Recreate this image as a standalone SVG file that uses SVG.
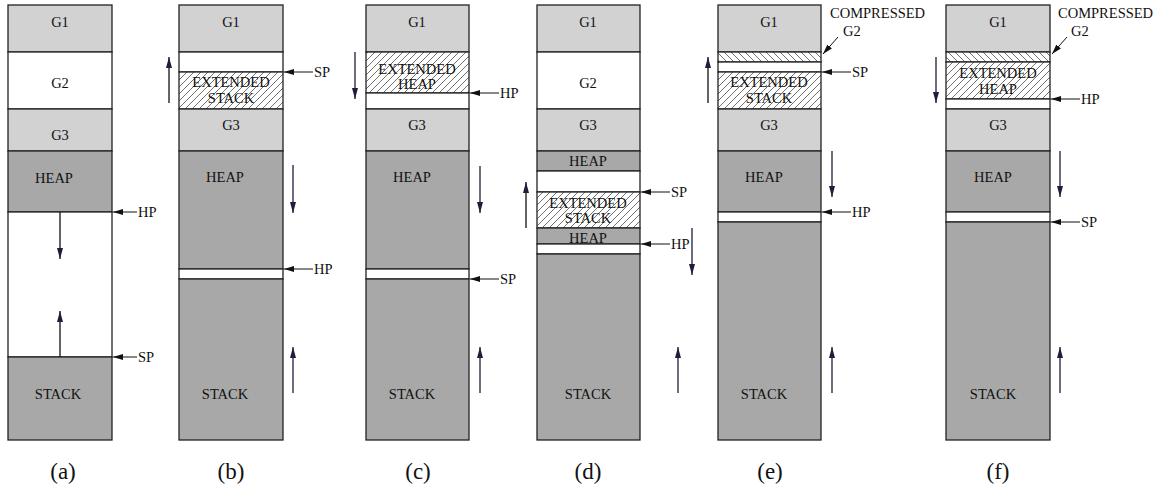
<svg xmlns="http://www.w3.org/2000/svg" width="1166" height="490" viewBox="0 0 1166 490">
<style>
.lg{fill:#d2d2d2;stroke:#222;stroke-width:1.3}
.dg{fill:#a8a8a8;stroke:#222;stroke-width:1.3}
.wh{fill:#fff;stroke:#222;stroke-width:1.3}
.hx{fill:url(#hatchF);stroke:#222;stroke-width:1.3}
.cx{fill:url(#hatchB);stroke:#222;stroke-width:1.3}
text{font-family:"Liberation Serif","Times New Roman",serif;font-size:14.5px;fill:#111}
.c{text-anchor:middle}
.cap{font-size:23px;text-anchor:middle}
.ptr{stroke:#111;stroke-width:1;fill:none;marker-end:url(#ah)}
.mv{stroke:#1e1e3c;stroke-width:1.3;fill:none;marker-end:url(#ah3)}
.mk{stroke:#111;stroke-width:1.3;fill:none;marker-end:url(#ah3)}
</style>
<defs>
<pattern id="hatchF" patternUnits="userSpaceOnUse" width="7" height="7">
<rect width="7" height="7" fill="#fff"/>
<path d="M0,7 L7,0 M-1,1 L1,-1 M6,8 L8,6" stroke="#333" stroke-width="0.7"/>
</pattern>
<pattern id="hatchB" patternUnits="userSpaceOnUse" width="7" height="7">
<rect width="7" height="7" fill="#fff"/>
<path d="M0,0 L7,7 M-1,6 L1,8 M6,-1 L8,1" stroke="#333" stroke-width="0.7"/>
</pattern>
<marker id="ah" markerWidth="10" markerHeight="6" refX="10" refY="3" orient="auto" markerUnits="userSpaceOnUse">
<path d="M0,0 L10,3 L0,6 z" fill="#111"/>
</marker>
<marker id="ah3" markerWidth="11" markerHeight="6" refX="11" refY="3" orient="auto" markerUnits="userSpaceOnUse">
<path d="M0,0 L11,3 L0,6 z" fill="#1e1e3c"/>
</marker>
</defs>

<g id="col-a">
<g id="a-g1"><rect class="lg" x="8" y="5" width="104" height="47"/><text class="c" x="60" y="27">G1</text></g>
<g id="a-g2"><rect class="wh" x="8" y="52" width="104" height="57"/><text class="c" x="60" y="88">G2</text></g>
<g id="a-g3"><rect class="lg" x="8" y="109" width="104" height="42"/><text class="c" x="60" y="140">G3</text></g>
<g id="a-heap"><rect class="dg" x="8" y="151" width="104" height="61"/><text class="c" x="54" y="183">HEAP</text></g>
<g id="a-free"><rect class="wh" x="8" y="212" width="104" height="145"/></g>
<g id="a-stack"><rect class="dg" x="8" y="357" width="104" height="83"/><text class="c" x="58" y="399">STACK</text></g>
<text class="cap" x="63" y="479">(a)</text>
</g>

<g id="col-b">
<g id="b-g1"><rect class="lg" x="179" y="5" width="104" height="47"/><text class="c" x="231" y="27">G1</text></g>
<g id="b-free1"><rect class="wh" x="179" y="52" width="104" height="20"/></g>
<g id="b-ext"><rect class="hx" x="179" y="72" width="104" height="37"/><text class="c" x="231" y="87">EXTENDED</text><text class="c" x="231" y="103">STACK</text></g>
<g id="b-g3"><rect class="lg" x="179" y="109" width="104" height="42"/><text class="c" x="231" y="130">G3</text></g>
<g id="b-heap"><rect class="dg" x="179" y="151" width="104" height="118"/><text class="c" x="225" y="182">HEAP</text></g>
<g id="b-free2"><rect class="wh" x="179" y="269" width="104" height="10"/></g>
<g id="b-stack"><rect class="dg" x="179" y="279" width="104" height="161"/><text class="c" x="225" y="399">STACK</text></g>
<text class="cap" x="231" y="479">(b)</text>
</g>

<g id="col-c">
<g id="c-g1"><rect class="lg" x="366" y="5" width="103" height="47"/><text class="c" x="417" y="27">G1</text></g>
<g id="c-ext"><rect class="hx" x="366" y="52" width="103" height="41"/><text class="c" x="417" y="74">EXTENDED</text><text class="c" x="417" y="89">HEAP</text></g>
<g id="c-free1"><rect class="wh" x="366" y="93" width="103" height="16"/></g>
<g id="c-g3"><rect class="lg" x="366" y="109" width="103" height="42"/><text class="c" x="417" y="130">G3</text></g>
<g id="c-heap"><rect class="dg" x="366" y="151" width="103" height="118"/><text class="c" x="412" y="182">HEAP</text></g>
<g id="c-free2"><rect class="wh" x="366" y="269" width="103" height="10"/></g>
<g id="c-stack"><rect class="dg" x="366" y="279" width="103" height="161"/><text class="c" x="412" y="399">STACK</text></g>
<text class="cap" x="418" y="479">(c)</text>
</g>

<g id="col-d">
<g id="d-g1"><rect class="lg" x="537" y="5" width="103" height="47"/><text class="c" x="588" y="27">G1</text></g>
<g id="d-g2"><rect class="wh" x="537" y="52" width="103" height="57"/><text class="c" x="588" y="88">G2</text></g>
<g id="d-g3"><rect class="lg" x="537" y="109" width="103" height="42"/><text class="c" x="588" y="130">G3</text></g>
<g id="d-heap1"><rect class="dg" x="537" y="151" width="103" height="20"/><text class="c" x="588" y="166">HEAP</text></g>
<g id="d-free1"><rect class="wh" x="537" y="171" width="103" height="21"/></g>
<g id="d-ext"><rect class="hx" x="537" y="192" width="103" height="36"/><text class="c" x="588" y="208">EXTENDED</text><text class="c" x="588" y="223">STACK</text></g>
<g id="d-heap2"><rect class="dg" x="537" y="228" width="103" height="16"/><text class="c" x="588" y="243">HEAP</text></g>
<g id="d-free2"><rect class="wh" x="537" y="244" width="103" height="10"/></g>
<g id="d-stack"><rect class="dg" x="537" y="254" width="103" height="186"/><text class="c" x="588" y="399">STACK</text></g>
<text class="cap" x="588" y="479">(d)</text>
</g>

<g id="col-e">
<g id="e-g1"><rect class="lg" x="718" y="5" width="103" height="47"/><text class="c" x="769" y="27">G1</text></g>
<g id="e-g2c"><rect class="cx" x="718" y="52" width="103" height="10"/></g>
<g id="e-free1"><rect class="wh" x="718" y="62" width="103" height="10"/></g>
<g id="e-ext"><rect class="hx" x="718" y="72" width="103" height="37"/><text class="c" x="769" y="87">EXTENDED</text><text class="c" x="769" y="103">STACK</text></g>
<g id="e-g3"><rect class="lg" x="718" y="109" width="103" height="42"/><text class="c" x="769" y="130">G3</text></g>
<g id="e-heap"><rect class="dg" x="718" y="151" width="103" height="61"/><text class="c" x="764" y="182">HEAP</text></g>
<g id="e-free2"><rect class="wh" x="718" y="212" width="103" height="10"/></g>
<g id="e-stack"><rect class="dg" x="718" y="222" width="103" height="218"/><text class="c" x="764" y="399">STACK</text></g>
<g id="e-label"><text x="830" y="18">COMPRESSED</text><text x="843" y="36">G2</text></g>
<text class="cap" x="770" y="479">(e)</text>
</g>

<g id="col-f">
<g id="f-g1"><rect class="lg" x="946" y="5" width="104" height="47"/><text class="c" x="998" y="27">G1</text></g>
<g id="f-g2c"><rect class="cx" x="946" y="52" width="104" height="10"/></g>
<g id="f-ext"><rect class="hx" x="946" y="62" width="104" height="37"/><text class="c" x="998" y="78">EXTENDED</text><text class="c" x="998" y="94">HEAP</text></g>
<g id="f-free1"><rect class="wh" x="946" y="99" width="104" height="10"/></g>
<g id="f-g3"><rect class="lg" x="946" y="109" width="104" height="42"/><text class="c" x="998" y="130">G3</text></g>
<g id="f-heap"><rect class="dg" x="946" y="151" width="104" height="61"/><text class="c" x="993" y="182">HEAP</text></g>
<g id="f-free2"><rect class="wh" x="946" y="212" width="104" height="10"/></g>
<g id="f-stack"><rect class="dg" x="946" y="222" width="104" height="218"/><text class="c" x="993" y="399">STACK</text></g>
<g id="f-label"><text x="1058" y="18">COMPRESSED</text><text x="1071" y="36">G2</text></g>
<text class="cap" x="998" y="479">(f)</text>
</g>

<g id="connectors">
<line class="ptr" x1="137" y1="212" x2="113" y2="212"/><text x="138" y="217">HP</text>
<line class="ptr" x1="137" y1="357" x2="113" y2="357"/><text x="138" y="362">SP</text>
<line class="ptr" x1="313" y1="72" x2="284" y2="72"/><text x="314" y="77">SP</text>
<line class="ptr" x1="313" y1="269" x2="284" y2="269"/><text x="314" y="274">HP</text>
<line class="ptr" x1="499" y1="93" x2="470" y2="93"/><text x="500" y="98">HP</text>
<line class="ptr" x1="499" y1="279" x2="470" y2="279"/><text x="500" y="284">SP</text>
<line class="ptr" x1="670" y1="192" x2="641" y2="192"/><text x="671" y="197">SP</text>
<line class="ptr" x1="670" y1="244" x2="641" y2="244"/><text x="671" y="249">HP</text>
<line class="ptr" x1="851" y1="72" x2="822" y2="72"/><text x="852" y="77">SP</text>
<line class="ptr" x1="851" y1="212" x2="822" y2="212"/><text x="852" y="217">HP</text>
<line class="ptr" x1="838" y1="37" x2="823" y2="54"/>
<line class="ptr" x1="1080" y1="99" x2="1051" y2="99"/><text x="1081" y="104">HP</text>
<line class="ptr" x1="1080" y1="222" x2="1051" y2="222"/><text x="1081" y="227">SP</text>
<line class="ptr" x1="1067" y1="37" x2="1052" y2="54"/>
<line class="mk" x1="60" y1="212" x2="60" y2="259"/>
<line class="mk" x1="60" y1="357" x2="60" y2="311"/>
<line class="mk" x1="169" y1="103" x2="169" y2="57"/>
<line class="mv" x1="293" y1="165" x2="293" y2="213"/>
<line class="mv" x1="293" y1="393" x2="293" y2="347"/>
<line class="mv" x1="355" y1="52" x2="355" y2="99"/>
<line class="mv" x1="480" y1="166" x2="480" y2="213"/>
<line class="mv" x1="480" y1="393" x2="480" y2="347"/>
<line class="mk" x1="526" y1="228" x2="526" y2="182"/>
<line class="mv" x1="692" y1="228" x2="692" y2="275"/>
<line class="mv" x1="678" y1="393" x2="678" y2="347"/>
<line class="mk" x1="708" y1="103" x2="708" y2="57"/>
<line class="mv" x1="832" y1="151" x2="832" y2="197"/>
<line class="mv" x1="832" y1="393" x2="832" y2="347"/>
<line class="mv" x1="936" y1="57" x2="936" y2="103"/>
<line class="mv" x1="1060" y1="151" x2="1060" y2="197"/>
<line class="mv" x1="1060" y1="393" x2="1060" y2="347"/>
</g>
</svg>
